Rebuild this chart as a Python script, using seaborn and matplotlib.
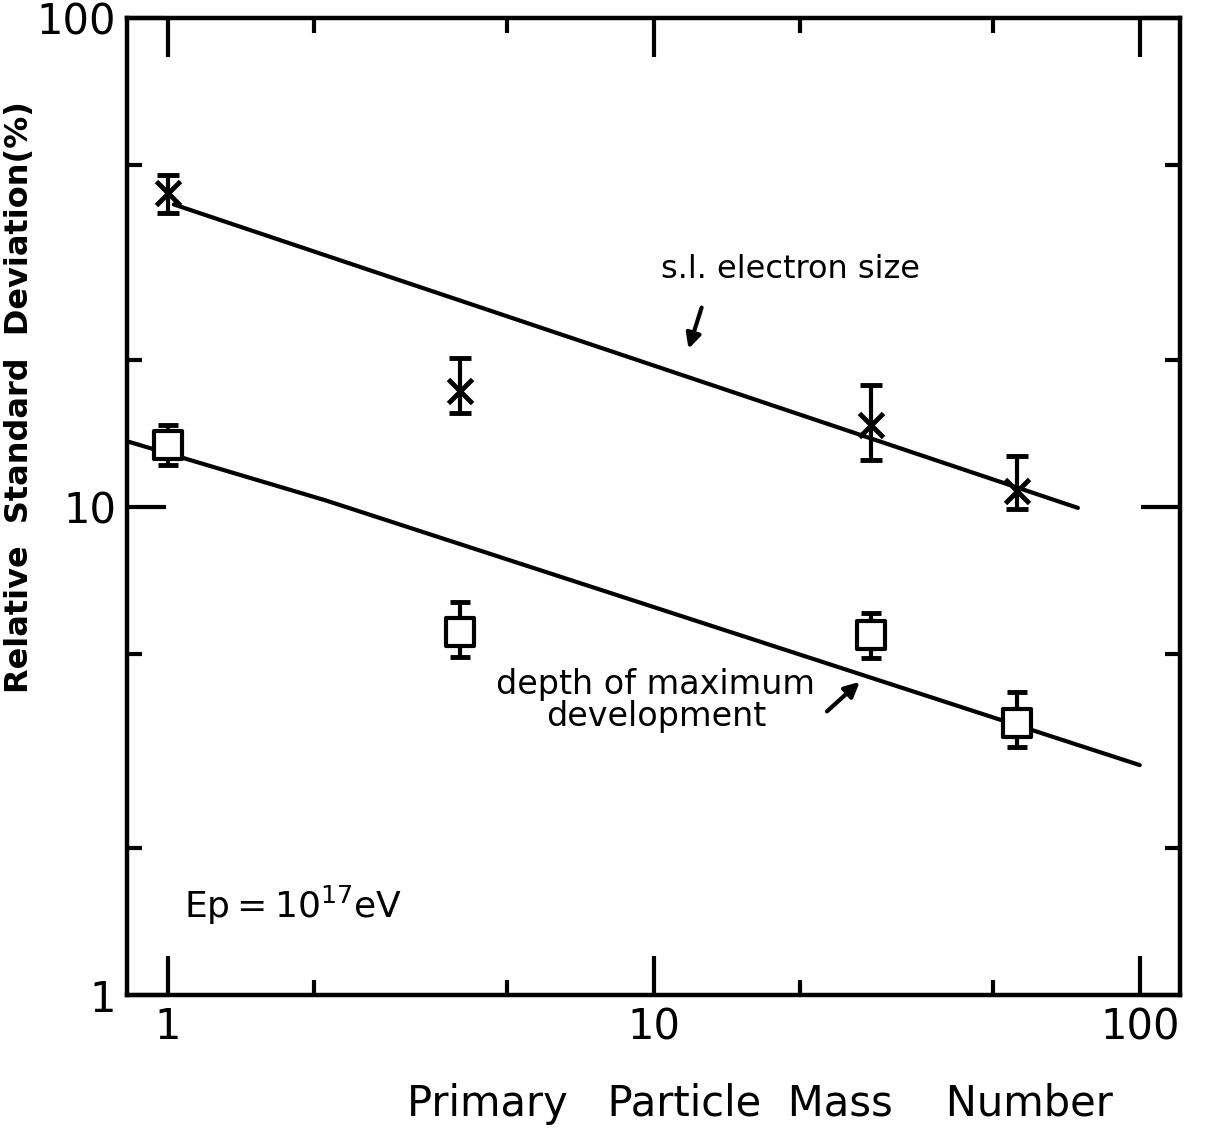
import matplotlib
matplotlib.use("Agg")
import matplotlib.pyplot as plt
from matplotlib.ticker import FixedLocator, FixedFormatter, NullFormatter
import seaborn as sns

# Primary mass numbers (p, He, Si, Fe)
mass = [1, 4, 28, 56]

# Shower-size fluctuation (relative standard deviation, %)
size_sd = [44.0, 17.3, 14.7, 10.8]
size_lo = [40.0, 15.6, 12.5, 9.9]
size_hi = [47.9, 20.2, 17.8, 12.7]

# Depth-of-maximum fluctuation (relative standard deviation, %)
depth_sd = [13.4, 5.54, 5.47, 3.61]
depth_lo = [12.2, 4.93, 4.90, 3.22]
depth_hi = [14.7, 6.38, 6.07, 4.17]

# Guide lines drawn through each set
size_line_x = [1.03, 74.6]
size_line_y = [41.6, 9.95]
depth_line_x = [0.83, 2.12, 100.0]
depth_line_y = [13.6, 10.3, 2.96]

x_major = [1, 10, 100]
x_major_labels = ["1", "10", "100"]
y_major = [1, 10, 100]
y_major_labels = ["1", "10", "100"]
minor_ticks = [2, 5, 20, 50]

sns.set_style("ticks")
plt.rcParams["font.family"] = ["DejaVu Sans"]
plt.rcParams["mathtext.fontset"] = "dejavusans"
plt.rcParams["text.color"] = "black"
plt.rcParams["axes.labelcolor"] = "black"
plt.rcParams["xtick.color"] = "black"
plt.rcParams["ytick.color"] = "black"

fig = plt.figure(figsize=(12.14, 11.48), dpi=100)
ax = fig.add_axes([0.105, 0.133, 0.867, 0.851])

lw = 3.0
sns.lineplot(x=size_line_x, y=size_line_y, ax=ax, color="black", lw=lw, sort=False)
sns.lineplot(x=depth_line_x, y=depth_line_y, ax=ax, color="black", lw=lw, sort=False)

# error bars
ax.errorbar(mass, size_sd,
            yerr=[[s - l for s, l in zip(size_sd, size_lo)],
                  [h - s for s, h in zip(size_sd, size_hi)]],
            fmt="none", ecolor="black", elinewidth=3, capsize=8, capthick=3.5, zorder=3)
ax.errorbar(mass, depth_sd,
            yerr=[[s - l for s, l in zip(depth_sd, depth_lo)],
                  [h - s for s, h in zip(depth_sd, depth_hi)]],
            fmt="none", ecolor="black", elinewidth=3, capsize=7, capthick=3.5, zorder=3)

sns.scatterplot(x=mass, y=size_sd, ax=ax, marker="x", s=300, color="black",
                linewidth=3.5, zorder=4)
sns.scatterplot(x=mass, y=depth_sd, ax=ax, marker="s", s=380, facecolor="white",
                edgecolor="black", linewidth=3, zorder=4)

ax.set_xscale("log")
ax.set_yscale("log")
ax.set_xlim(0.827, 121)
ax.set_ylim(1, 100)

ax.xaxis.set_major_locator(FixedLocator(x_major))
ax.xaxis.set_major_formatter(FixedFormatter(x_major_labels))
ax.yaxis.set_major_locator(FixedLocator(y_major))
ax.yaxis.set_major_formatter(FixedFormatter(y_major_labels))
ax.xaxis.set_minor_locator(FixedLocator(minor_ticks))
ax.yaxis.set_minor_locator(FixedLocator(minor_ticks))
ax.xaxis.set_minor_formatter(NullFormatter())
ax.yaxis.set_minor_formatter(NullFormatter())

for sp in ax.spines.values():
    sp.set_visible(True)
    sp.set_linewidth(3.2)
    sp.set_color("black")

ax.tick_params(which="major", direction="in", length=28, width=3,
               top=True, right=True, labelsize=30, pad=8, colors="black")
ax.tick_params(which="minor", direction="in", length=11, width=3,
               top=True, right=True)

ax.set_xlabel("Primary   Particle  Mass    Number", fontsize=30)
ax.xaxis.set_label_coords(0.601, -0.090)
ax.set_ylabel("Relative  Standard  Deviation(%)", fontsize=23, fontweight="semibold")
ax.yaxis.set_label_coords(-0.088, 0.612)

# annotations
ax.text(19.1, 30.6, "s.l. electron size", fontsize=23, ha="center", va="center")
ax.annotate("", xy=(11.75, 20.8), xytext=(12.6, 25.9),
            arrowprops=dict(arrowstyle="-|>", color="black", lw=3, mutation_scale=22))
ax.text(10.1, 4.02, "depth of maximum\ndevelopment", fontsize=24, ha="center",
        va="center", linespacing=0.95)
ax.annotate("", xy=(26.8, 4.42), xytext=(22.5, 3.78),
            arrowprops=dict(arrowstyle="-|>", color="black", lw=3, mutation_scale=22))
ax.text(1.08, 1.53, r"Ep$=$10$^{17}$eV", fontsize=26, ha="left", va="center")

fig.savefig("out.png", dpi=100)
